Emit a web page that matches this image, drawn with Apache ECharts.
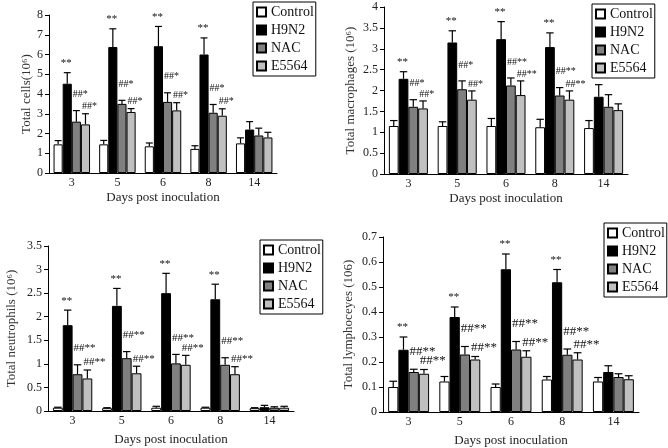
<!DOCTYPE html>
<html>
<head>
<meta charset="utf-8">
<script src="https://cdn.jsdelivr.net/npm/echarts@6/dist/echarts.min.js"></script>
<style>
html,body{margin:0;padding:0;background:#fff;}
#chart{width:668px;height:448px;}
</style>
</head>
<body>
<div id="chart"></div>
<script>
// ---- data ----
const categories = ['3', '5', '6', '8', '14'];
const seriesNames = ['Control', 'H9N2', 'NAC', 'E5564'];
const xAxisTitle = 'Days post inoculation';

// Panel 1: Total cells (10^6)
const cellsMean = [
  [1.45, 1.45, 1.35, 1.22, 1.50],
  [4.52, 6.38, 6.42, 6.00, 2.20],
  [2.60, 3.50, 3.60, 3.05, 1.90],
  [2.46, 3.09, 3.17, 2.90, 1.80]
];
const cellsErr = [
  [0.19, 0.20, 0.17, 0.16, 0.28],
  [0.56, 0.92, 1.00, 0.84, 0.40],
  [0.56, 0.18, 0.46, 0.42, 0.37],
  [0.54, 0.17, 0.39, 0.35, 0.26]
];
const cellsMarks = [
  ['', '', '', '', ''],
  ['**', '**', '**', '**', ''],
  ['##*', '##*', '##*', '##*', ''],
  ['##*', '##*', '##*', '##*', '']
];

// Panel 2: Total macrophages (10^6)
const macroMean = [
  [1.15, 1.15, 1.15, 1.12, 1.10],
  [2.28, 3.15, 3.23, 3.04, 1.85],
  [1.61, 2.03, 2.12, 1.88, 1.61],
  [1.57, 1.78, 1.89, 1.78, 1.53]
];
const macroErr = [
  [0.13, 0.10, 0.18, 0.19, 0.18],
  [0.17, 0.28, 0.42, 0.34, 0.29],
  [0.17, 0.20, 0.18, 0.19, 0.29],
  [0.18, 0.21, 0.34, 0.21, 0.15]
];
const macroMarks = [
  ['', '', '', '', ''],
  ['**', '**', '**', '**', ''],
  ['##*', '##*', '##**', '##**', ''],
  ['##*', '##*', '##**', '##**', '']
];

// Panel 3: Total neutrophils (10^6)
const neutroMean = [
  [0.07, 0.06, 0.07, 0.07, 0.06],
  [1.82, 2.23, 2.50, 2.37, 0.08],
  [0.78, 1.12, 1.01, 0.98, 0.07],
  [0.69, 0.80, 0.98, 0.78, 0.07]
];
const neutroErr = [
  [0.01, 0.01, 0.03, 0.01, 0.01],
  [0.32, 0.37, 0.42, 0.32, 0.04],
  [0.20, 0.14, 0.19, 0.15, 0.02],
  [0.18, 0.15, 0.20, 0.16, 0.03]
];
const neutroMarks = [
  ['', '', '', '', ''],
  ['**', '**', '**', '**', ''],
  ['##**', '##**', '##**', '##**', ''],
  ['##**', '##**', '##**', '##**', '']
];

// Panel 4: Total lymphoceyes (106)
const lymphMean = [
  [0.100, 0.122, 0.100, 0.130, 0.122],
  [0.249, 0.380, 0.571, 0.519, 0.160],
  [0.160, 0.230, 0.250, 0.229, 0.140],
  [0.153, 0.210, 0.221, 0.210, 0.131]
];
const lymphErr = [
  [0.023, 0.020, 0.012, 0.012, 0.016],
  [0.051, 0.040, 0.061, 0.051, 0.025],
  [0.011, 0.032, 0.032, 0.023, 0.013],
  [0.017, 0.012, 0.024, 0.027, 0.014]
];
const lymphMarks = [
  ['', '', '', '', ''],
  ['**', '**', '**', '**', ''],
  ['##**', '##**', '##**', '##**', ''],
  ['##**', '##**', '##**', '##**', '']
];

const yTitles = ['Total cells(10\u2076)', 'Total macrophages (10\u2076)', 'Total neutrophils (10\u2076)', 'Total lymphoceyes (106)'];
const yMax = [8, 4, 3.5, 0.7];
const yInterval = [1, 0.5, 0.5, 0.1];

// ---- styling / layout ----
const FONT = 'Liberation Serif';
const colors = ['#ffffff', '#000000', '#808080', '#c0c0c0'];
const grids = [
  {left: 49, top: 15, width: 228, height: 158},
  {left: 384, top: 7, width: 244, height: 167},
  {left: 48, top: 246, width: 246, height: 165},
  {left: 383, top: 237, width: 256, height: 175}
];
const yNameGap = [16, 27, 30, 28];
const xNameGap = [18, 18, 22, 22];
const hashFont = [10, 10, 11, 13];
const markLift = [0, 4, 11, 2];   // extra lift of significance text per series (style)
const legendPos = [
  {left: 253, top: 2},
  {left: 592, top: 4},
  {left: 260, top: 240},
  {left: 604, top: 223}
];
const panels = [
  {mean: cellsMean, err: cellsErr, marks: cellsMarks},
  {mean: macroMean, err: macroErr, marks: macroMarks},
  {mean: neutroMean, err: neutroErr, marks: neutroMarks},
  {mean: lymphMean, err: lymphErr, marks: lymphMarks}
];

function makeErrRender(k, marks, hf) {
  return function (params, api) {
    const cat = api.value(0);
    const mean = api.value(1);
    const err = api.value(2);
    const base = api.coord([cat, mean]);
    const top = api.coord([cat, mean + err]);
    const band = api.size([1, 0])[0];
    const bw = band * 0.8 / 4;
    const x = base[0] - band * 0.4 + (k + 0.5) * bw;
    const cap = bw * 0.38;
    const children = [
      {type: 'line', shape: {x1: x, y1: base[1], x2: x, y2: top[1]}, style: {stroke: '#000', lineWidth: 1.2}},
      {type: 'line', shape: {x1: x - cap, y1: top[1], x2: x + cap, y2: top[1]}, style: {stroke: '#000', lineWidth: 1.2}}
    ];
    const m = marks[k][params.dataIndex];
    if (m) {
      const isHash = m.charAt(0) === '#';
      children.push({
        type: 'text',
        x: isHash ? x - bw / 2 + 1 : x - 1,
        y: top[1] - markLift[k],
        style: {
          text: m,
          textAlign: isHash ? 'left' : 'center',
          textVerticalAlign: 'bottom',
          fontFamily: FONT,
          fontSize: isHash ? hf : 11,
          fill: '#111'
        }
      });
    }
    return {type: 'group', children: children};
  };
}

const option = {
  animation: false,
  backgroundColor: '#fff',
  textStyle: {fontFamily: FONT},
  grid: grids.map(g => Object.assign({containLabel: false}, g)),
  legend: legendPos.map(p => ({
    left: p.left, top: p.top,
    orient: 'vertical',
    data: seriesNames,
    icon: 'rect',
    itemWidth: 9, itemHeight: 9, itemGap: 4,
    padding: [3, 2, 3, 3],
    borderColor: '#000', borderWidth: 1,
    selectedMode: false,
    textStyle: {fontFamily: FONT, fontSize: 14, color: '#111', lineHeight: 14}
  })),
  xAxis: grids.map((g, i) => ({
    type: 'category',
    gridIndex: i,
    data: categories,
    name: xAxisTitle,
    nameLocation: 'middle',
    nameGap: xNameGap[i],
    nameTextStyle: {fontFamily: FONT, fontSize: 13, color: '#222'},
    axisLine: {lineStyle: {color: '#000', width: 1}},
    axisTick: {inside: true, length: 4, lineStyle: {color: '#000'}},
    axisLabel: {fontFamily: FONT, fontSize: 12, color: '#222', margin: 4},
    splitLine: {show: false}
  })),
  yAxis: grids.map((g, i) => ({
    type: 'value',
    gridIndex: i,
    min: 0, max: yMax[i], interval: yInterval[i],
    name: yTitles[i],
    nameLocation: 'middle',
    nameRotate: 90,
    nameGap: yNameGap[i],
    nameTextStyle: {fontFamily: FONT, fontSize: 13, color: '#333'},
    axisLine: {show: true, lineStyle: {color: '#000', width: 1}},
    axisTick: {show: true, inside: false, length: 4, lineStyle: {color: '#000'}},
    axisLabel: {fontFamily: FONT, fontSize: 12, color: '#222', margin: 6},
    splitLine: {show: false}
  })),
  series: []
};

panels.forEach((p, i) => {
  seriesNames.forEach((name, k) => {
    option.series.push({
      type: 'bar',
      name: name,
      xAxisIndex: i, yAxisIndex: i,
      data: p.mean[k],
      barGap: '0%',
      barCategoryGap: '20%',
      itemStyle: {color: colors[k], borderColor: '#000', borderWidth: 1},
      z: 2
    });
  });
  seriesNames.forEach((name, k) => {
    option.series.push({
      type: 'custom',
      name: name + ' err',
      xAxisIndex: i, yAxisIndex: i,
      renderItem: makeErrRender(k, p.marks, hashFont[i]),
      data: categories.map((c, j) => [j, p.mean[k][j], p.err[k][j]]),
      encode: {x: 0, y: 1},
      z: 3
    });
  });
});

const chart = echarts.init(document.getElementById('chart'), null, {renderer: 'canvas'});
chart.setOption(option);
</script>
</body>
</html>
